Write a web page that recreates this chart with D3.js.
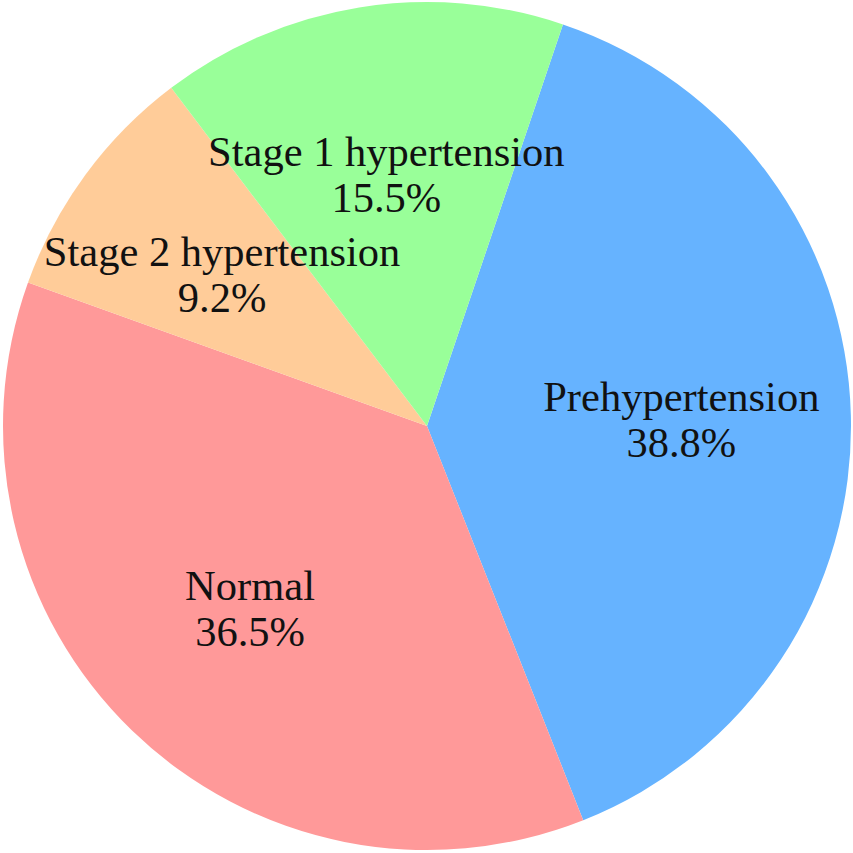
<!DOCTYPE html>
<html>
<head>
<meta charset="utf-8">
<script src="https://cdn.jsdelivr.net/npm/d3@7"></script>
<style>
  html, body { margin: 0; padding: 0; background: #ffffff; }
  svg { display: block; }
</style>
</head>
<body>
<svg id="chart" width="853" height="853"></svg>
<script>
const categories = ["Prehypertension", "Normal", "Stage 2 hypertension", "Stage 1 hypertension"];
const values = [38.8, 36.5, 9.2, 15.5];
const colors = ["#66b3ff", "#ff9999", "#ffcc99", "#99ff99"];
const startDeg = 18.7;

const width = 853, height = 853;
const cx = 427, cy = 426, radius = 424;

const svg = d3.select("#chart");
const g = svg.append("g").attr("transform", `translate(${cx},${cy})`);

const data = categories.map((c, i) => ({ name: c, value: values[i], color: colors[i] }));
const start = startDeg * Math.PI / 180;
const pie = d3.pie().value(d => d.value).sort(null)
  .startAngle(start).endAngle(start + 2 * Math.PI);
const arcs = pie(data);

const arc = d3.arc().innerRadius(0).outerRadius(radius);
const labelArc = d3.arc().innerRadius(radius * 0.6).outerRadius(radius * 0.6);

g.selectAll("path.slice").data(arcs).enter().append("path")
  .attr("class", "slice")
  .attr("d", arc)
  .attr("fill", d => d.data.color);

const labels = g.selectAll("text.lbl").data(arcs).enter().append("text")
  .attr("class", "lbl")
  .attr("transform", d => `translate(${labelArc.centroid(d)})`)
  .attr("text-anchor", "middle")
  .attr("font-family", "'Liberation Serif', 'Times New Roman', serif")
  .attr("font-size", 42.5)
  .attr("fill", "#111");

labels.append("tspan").attr("x", 0).attr("y", -9).text(d => d.data.name);
labels.append("tspan").attr("x", 0).attr("y", 37).text(d => d.data.value.toFixed(1) + "%");
</script>
</body>
</html>
